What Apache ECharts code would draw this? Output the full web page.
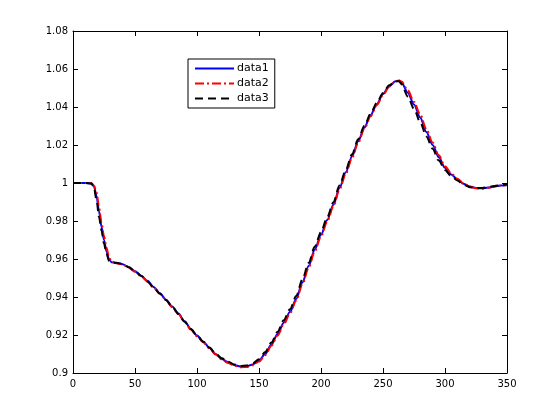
<!DOCTYPE html>
<html>
<head>
<meta charset="utf-8">
<script src="https://cdn.jsdelivr.net/npm/echarts@6/dist/echarts.min.js"></script>
<style>html,body{margin:0;padding:0;background:#fff}#c{width:560px;height:420px}</style>
</head>
<body>
<div id="c"></div>
<script>
var xValues = [0,10,15,17,19,21,23,25,27,29,31,35,40,45,50,55,60,65,70,75,80,85,90,95,100,105,110,115,120,125,130,135,140,145,150,155,160,165,170,175,180,185,190,195,200,205,210,215,220,225,230,235,240,245,250,255,260,263,265,270,275,280,285,290,295,300,305,310,315,320,325,330,335,340,345,350];
var data1 = [1.0,1.0,0.9998,0.998,0.993,0.985,0.977,0.970,0.964,0.960,0.9583,0.9579,0.9573,0.9556,0.9535,0.9512,0.9485,0.9453,0.9420,0.9386,0.9350,0.9313,0.9272,0.9232,0.9197,0.9165,0.9133,0.9100,0.9074,0.9056,0.9042,0.9034,0.9035,0.9045,0.9065,0.9100,0.9150,0.9205,0.9265,0.9322,0.9390,0.9476,0.9563,0.9650,0.9727,0.9805,0.9885,0.9975,1.0057,1.0140,1.0220,1.0292,1.0357,1.0415,1.0468,1.0510,1.0535,1.0538,1.0528,1.0475,1.0413,1.0345,1.0268,1.0200,1.0135,1.0080,1.0045,1.0020,0.9996,0.9981,0.9974,0.9972,0.9976,0.9982,0.9987,0.9990];
var data2 = [1.0,1.0,0.9999,0.9985,0.995,0.987,0.979,0.972,0.966,0.961,0.9587,0.9578,0.9571,0.9554,0.9533,0.9509,0.9482,0.9450,0.9417,0.9383,0.9347,0.9310,0.9269,0.9229,0.9194,0.9162,0.9130,0.9097,0.9071,0.9053,0.9039,0.9030,0.9032,0.9041,0.9060,0.9094,0.9143,0.9197,0.9257,0.9314,0.9381,0.9467,0.9554,0.9641,0.9719,0.9797,0.9877,0.9967,1.0049,1.0132,1.0212,1.0285,1.0351,1.0410,1.0463,1.0507,1.0535,1.0540,1.0534,1.0488,1.0427,1.0360,1.0283,1.0213,1.0146,1.0088,1.0050,1.0023,0.9997,0.9980,0.9972,0.9970,0.9975,0.9982,0.9987,0.9990];
var data3 = [1.0,1.0,0.9997,0.997,0.991,0.982,0.975,0.968,0.963,0.959,0.9580,0.9580,0.9574,0.9557,0.9536,0.9511,0.9482,0.9450,0.9418,0.9384,0.9348,0.9311,0.9270,0.9231,0.9197,0.9165,0.9134,0.9103,0.9078,0.9060,0.9045,0.9037,0.9039,0.9051,0.9073,0.9110,0.9161,0.9217,0.9278,0.9336,0.9405,0.9492,0.9579,0.9665,0.9742,0.9820,0.9899,0.9988,1.0069,1.0151,1.0230,1.0301,1.0365,1.0422,1.0474,1.0514,1.0536,1.0535,1.0520,1.0455,1.0390,1.0320,1.0245,1.0180,1.0118,1.0068,1.0036,1.0013,0.9991,0.9978,0.9973,0.9974,0.9979,0.9984,0.9989,0.9992];
var seriesNames = ['data1','data2','data3'];
var xTicks = {min:0, max:350, interval:50};
var yTicks = {min:0.9, max:1.08, interval:0.02};

function pairs(ys){ return xValues.map(function(x,i){ return [x, ys[i]]; }); }

var chart = echarts.init(document.getElementById('c'), null, {renderer:'canvas'});
var axisFont = {fontFamily:'DejaVu Sans', fontSize:10, color:'#000'};
chart.setOption({
  animation:false,
  backgroundColor:'#fff',
  grid:{left:73, top:31, width:434, height:342, containLabel:false},
  legend:{
    orient:'vertical', left:188, top:59,
    data:seriesNames,
    borderColor:'#000', borderWidth:1, borderRadius:0,
    padding:[4,6,4,6], itemGap:4, itemWidth:39, itemHeight:12,
    itemStyle:{opacity:0},
    textStyle:{fontFamily:'DejaVu Sans', fontSize:11, color:'#000', padding:[0,0,0,-2]},
    backgroundColor:'#fff'
  },
  xAxis:[{
    type:'value', min:xTicks.min, max:xTicks.max, interval:xTicks.interval, position:'bottom',
    axisLine:{onZero:false, lineStyle:{color:'#000', width:1}},
    axisTick:{inside:true, length:5, lineStyle:{color:'#000'}},
    axisLabel:Object.assign({margin:6}, axisFont),
    splitLine:{show:false}
  },{
    type:'value', min:xTicks.min, max:xTicks.max, interval:xTicks.interval, position:'top',
    axisLine:{onZero:false, lineStyle:{color:'#000', width:1}},
    axisTick:{inside:true, length:5, lineStyle:{color:'#000'}},
    axisLabel:{show:false}, splitLine:{show:false}
  }],
  yAxis:[{
    type:'value', min:yTicks.min, max:yTicks.max, interval:yTicks.interval, position:'left',
    axisLine:{onZero:false, lineStyle:{color:'#000', width:1}},
    axisTick:{inside:true, length:5, lineStyle:{color:'#000'}},
    axisLabel:Object.assign({margin:5}, axisFont),
    splitLine:{show:false}
  },{
    type:'value', min:yTicks.min, max:yTicks.max, interval:yTicks.interval, position:'right',
    axisLine:{onZero:false, lineStyle:{color:'#000', width:1}},
    axisTick:{inside:true, length:5, lineStyle:{color:'#000'}},
    axisLabel:{show:false}, splitLine:{show:false}
  }],
  series:[
    {name:seriesNames[0], type:'line', data:pairs(data1), showSymbol:false, symbol:'none', smooth:0.3, smoothMonotone:'x',
     lineStyle:{color:'#0000ff', width:2, type:'solid'}, itemStyle:{color:'#0000ff'}, z:2},
    {name:seriesNames[1], type:'line', data:pairs(data2), showSymbol:false, symbol:'none', smooth:0.3, smoothMonotone:'x',
     lineStyle:{color:'#ff0000', width:2, type:[9,3,2,3]}, itemStyle:{color:'#ff0000'}, z:3},
    {name:seriesNames[2], type:'line', data:pairs(data3), showSymbol:false, symbol:'none', smooth:0.3, smoothMonotone:'x',
     lineStyle:{color:'#000000', width:2, type:[8,5]}, itemStyle:{color:'#000000'}, z:4}
  ]
});
</script>
</body>
</html>
